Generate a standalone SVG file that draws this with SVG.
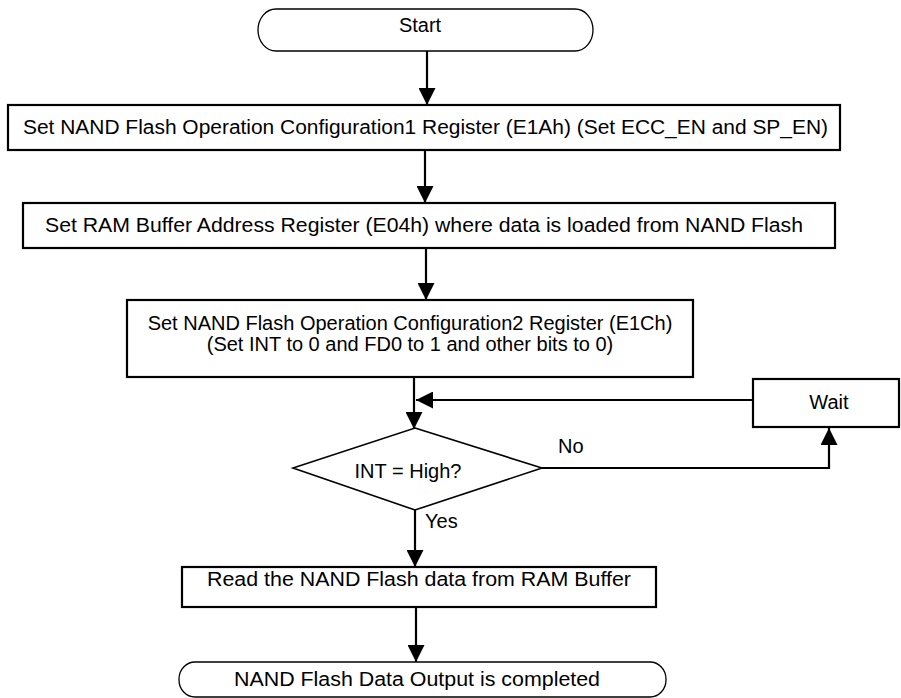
<svg xmlns="http://www.w3.org/2000/svg" width="901" height="698" viewBox="0 0 901 698">
<style>
text{font-family:"Liberation Sans",Arial,sans-serif;font-size:20px;fill:#000}
.box{fill:#fff;stroke:#000;stroke-width:2.2}
.term{fill:#fff;stroke:#000;stroke-width:1.3}
.dia{fill:#fff;stroke:#000;stroke-width:1.6}
.c{fill:none;stroke:#000;stroke-width:2.2}
.m{text-anchor:middle}
</style>
<defs>
<marker id="ah" markerUnits="userSpaceOnUse" markerWidth="18" markerHeight="17" refX="17" refY="8.5" orient="auto">
<path d="M0,0 L17,8.5 L0,17 Z" fill="#000"/>
</marker>
</defs>
<g id="connectors">
<line class="c" x1="427" y1="51" x2="427" y2="105" marker-end="url(#ah)"/>
<line class="c" x1="425" y1="150" x2="425" y2="203" marker-end="url(#ah)"/>
<line class="c" x1="426" y1="248" x2="426" y2="300" marker-end="url(#ah)"/>
<line class="c" x1="414" y1="377" x2="414" y2="429" marker-end="url(#ah)"/>
<line class="c" x1="753" y1="400" x2="416" y2="400" marker-end="url(#ah)"/>
<polyline class="c" points="542,468 829,468 829,428" marker-end="url(#ah)"/>
<line class="c" x1="415" y1="510" x2="415" y2="567" marker-end="url(#ah)"/>
<line class="c" x1="416" y1="607" x2="416" y2="662" marker-end="url(#ah)"/>
</g>
<g id="start">
<rect class="term" x="258" y="9" width="335" height="42" rx="18" ry="21"/>
<text class="m" x="420" y="32">Start</text>
</g>
<g id="step1">
<rect class="box" x="8" y="105" width="832" height="45"/>
<text class="m" x="425.5" y="134" textLength="805" lengthAdjust="spacingAndGlyphs">Set NAND Flash Operation Configuration1 Register (E1Ah) (Set ECC_EN and SP_EN)</text>
</g>
<g id="step2">
<rect class="box" x="23" y="203" width="812" height="45"/>
<text class="m" x="424" y="232" textLength="758" lengthAdjust="spacingAndGlyphs">Set RAM Buffer Address Register (E04h) where data is loaded from NAND Flash</text>
</g>
<g id="step3">
<rect class="box" x="127" y="300" width="566" height="77"/>
<text class="m" x="410" y="330">Set NAND Flash Operation Configuration2 Register (E1Ch)</text>
<text class="m" x="410" y="351">(Set INT to 0 and FD0 to 1 and other bits to 0)</text>
</g>
<g id="decision">
<polygon class="dia" points="415,428 542,468 415,510 293,468"/>
<text class="m" x="408" y="478">INT = High?</text>
</g>
<g id="wait">
<rect class="box" x="753" y="379" width="146" height="48"/>
<text class="m" x="829" y="409">Wait</text>
</g>
<g id="labels">
<text x="558" y="453">No</text>
<text x="425" y="528">Yes</text>
</g>
<g id="read">
<rect class="box" x="182" y="567" width="474" height="40"/>
<text class="m" x="419" y="586" textLength="424" lengthAdjust="spacingAndGlyphs">Read the NAND Flash data from RAM Buffer</text>
</g>
<g id="end">
<rect class="term" x="179" y="662" width="487" height="35" rx="16" ry="17"/>
<text class="m" x="417" y="686" textLength="366" lengthAdjust="spacingAndGlyphs">NAND Flash Data Output is completed</text>
</g>
</svg>
